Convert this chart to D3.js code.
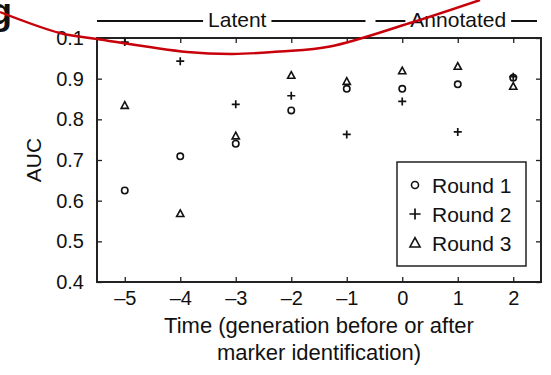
<!DOCTYPE html>
<html>
  <head>
    <meta charset="UTF-8" />
    <script src="https://d3js.org/d3.v7.min.js"></script>
    <style>
      body { margin: 0; background: #fff; }
      text { font-family: "Liberation Sans", Arial, sans-serif; fill: #111; }
    </style>
  </head>
  <body>
    <div id="chart"></div>
    <script>
      // donnees
      const generations = [-5, -4, -3, -2, -1, 0, 1, 2];
      const round1 = [0.625, 0.709, 0.740, 0.822, 0.875, 0.875, 0.886, 0.902];
      const round2 = [0.990, 0.943, 0.837, 0.858, 0.763, 0.844, 0.769, 0.905];
      const round3 = [0.834, 0.568, 0.759, 0.908, 0.893, 0.919, 0.930, 0.881];
      const yTicks = [0.4, 0.5, 0.6, 0.7, 0.8, 0.9, 1.0];
      const yTickLabels = ["0.4", "0.5", "0.6", "0.7", "0.8", "0.9", "0.1"];
      const xTickLabels = ["\u20135", "\u20134", "\u20133", "\u20132", "\u20131", "0", "1", "2"];
      const phases = [
        { name: "Latent", from: -5.5, to: -0.5 },
        { name: "Annotated", from: -0.5, to: 2.5 }
      ];
      const seriesNames = ["Round 1", "Round 2", "Round 3"];
      // trait rouge d'annotation (hors donnees)
      const redStroke = [[0, 12], [60, 33], [97, 39], [187, 52], [233, 54], [280, 51.5], [330, 46.5], [410, 23], [480, 0]];

      const width = 551, height = 375;
      const margin = { top: 38, right: 10, bottom: 93, left: 97 };
      const w = width - margin.left - margin.right,
            h = height - margin.top - margin.bottom;

      const svg = d3.select("#chart").append("svg")
        .attr("width", width).attr("height", height);
      const g = svg.append("g")
        .attr("transform", "translate(" + margin.left + "," + margin.top + ")");

      const x = d3.scaleLinear().domain([-5.5, 2.5]).range([0, w]);
      const y = d3.scaleLinear().domain([0.4, 1.0]).range([h, 0]);

      // axes (ticks vers l'interieur)
      const xAxis = g.append("g").attr("transform", "translate(0," + h + ")")
        .call(d3.axisBottom(x).tickValues(generations).tickSize(-5).tickPadding(9)
          .tickFormat((d, i) => xTickLabels[i]));
      const xTop = g.append("g")
        .call(d3.axisTop(x).tickValues(generations).tickSize(-5).tickFormat(""));
      const yAxis = g.append("g")
        .call(d3.axisLeft(y).tickValues(yTicks).tickSize(-5).tickPadding(13)
          .tickFormat((d, i) => yTickLabels[i]));
      const yRight = g.append("g").attr("transform", "translate(" + w + ",0)")
        .call(d3.axisRight(y).tickValues(yTicks).tickSize(-5).tickFormat(""));

      g.selectAll(".domain").remove();
      g.selectAll(".tick line").attr("stroke", "#222").attr("stroke-width", 1.3);
      g.selectAll(".tick text").style("font-size", "20px")
        .style("font-family", "'Liberation Sans', Arial, sans-serif").attr("fill", "#111");

      g.append("rect").attr("width", w).attr("height", h)
        .attr("fill", "none").attr("stroke", "#222").attr("stroke-width", 2);

      // marqueurs
      function drawMarker(sel, type, s) {
        if (type == 0) {
          sel.append("circle").attr("r", 3.2 * s).attr("fill", "none")
            .attr("stroke", "#111").attr("stroke-width", 1.6);
        } else if (type == 1) {
          sel.append("path").attr("d", "M" + (-4 * s) + ",0H" + (4 * s) + "M0," + (-4 * s) + "V" + (4 * s))
            .attr("stroke", "#111").attr("stroke-width", 1.7);
        } else {
          const r = 3.8 * s;
          sel.append("path").attr("d", "M0," + (-r) + "L" + (r * 0.95) + "," + (r * 0.75) + "L" + (-r * 0.95) + "," + (r * 0.75) + "Z")
            .attr("fill", "none").attr("stroke", "#111").attr("stroke-width", 1.6);
        }
      }

      [round1, round2, round3].forEach((serie, k) => {
        g.append("g").selectAll("g")
          .data(serie)
          .join("g")
          .attr("transform", (d, i) => "translate(" + x(generations[i]) + "," + y(d) + ")")
          .each(function () { drawMarker(d3.select(this), k, 1); });
      });

      // legende
      const legend = g.append("g").attr("transform", "translate(" + (w - 144) + "," + (h - 120) + ")");
      legend.append("rect").attr("width", 129).attr("height", 104)
        .attr("fill", "#fff").attr("stroke", "#222").attr("stroke-width", 1.5);
      seriesNames.forEach((name, k) => {
        const row = legend.append("g").attr("transform", "translate(18," + (23 + k * 29) + ")");
        drawMarker(row, k, k == 0 ? 1.1 : 1.4);
        row.append("text").attr("x", 17).attr("dy", "0.36em")
          .style("font-size", "21px").text(name);
      });

      // titres des axes
      g.append("text")
        .attr("transform", "translate(" + (-56) + "," + (h / 2) + ") rotate(-90)")
        .attr("text-anchor", "middle").style("font-size", "21px").text("AUC");
      const xt = g.append("text").attr("text-anchor", "middle")
        .attr("x", w / 2).attr("y", h + 51).style("font-size", "22px");
      xt.append("tspan").attr("x", w / 2).text("Time (generation before or after");
      xt.append("tspan").attr("x", w / 2).attr("dy", 27).text("marker identification)");

      // bandeau Latent / Annotated
      phases.forEach((p, k) => {
        const x0 = x(p.from) + (k == 0 ? 0 : 1), x1 = x(p.to) - (k == 0 ? 9 : 4);
        const cx = (x0 + x1) / 2 + (k == 0 ? 6 : 2);
        const t = g.append("text").attr("x", cx).attr("y", -11)
          .attr("text-anchor", "middle").style("font-size", "21px").text(p.name);
        const tw = t.node().getComputedTextLength();
        g.append("line").attr("x1", x0).attr("x2", cx - tw / 2 - 5)
          .attr("y1", -17).attr("y2", -17).attr("stroke", "#111").attr("stroke-width", 2);
        g.append("line").attr("x1", cx + tw / 2 + 5).attr("x2", x1)
          .attr("y1", -17).attr("y2", -17).attr("stroke", "#111").attr("stroke-width", 2);
      });

      // morceau de lettre coupe en haut a gauche + trait rouge
      svg.append("text").attr("x", -10).attr("y", 24)
        .style("font-size", "36px").style("font-weight", "bold").text("g");
      svg.append("path")
        .attr("d", d3.line().curve(d3.curveCatmullRom)(redStroke))
        .attr("fill", "none").attr("stroke", "#c8000a").attr("stroke-width", 2.4);
    </script>
  </body>
</html>
